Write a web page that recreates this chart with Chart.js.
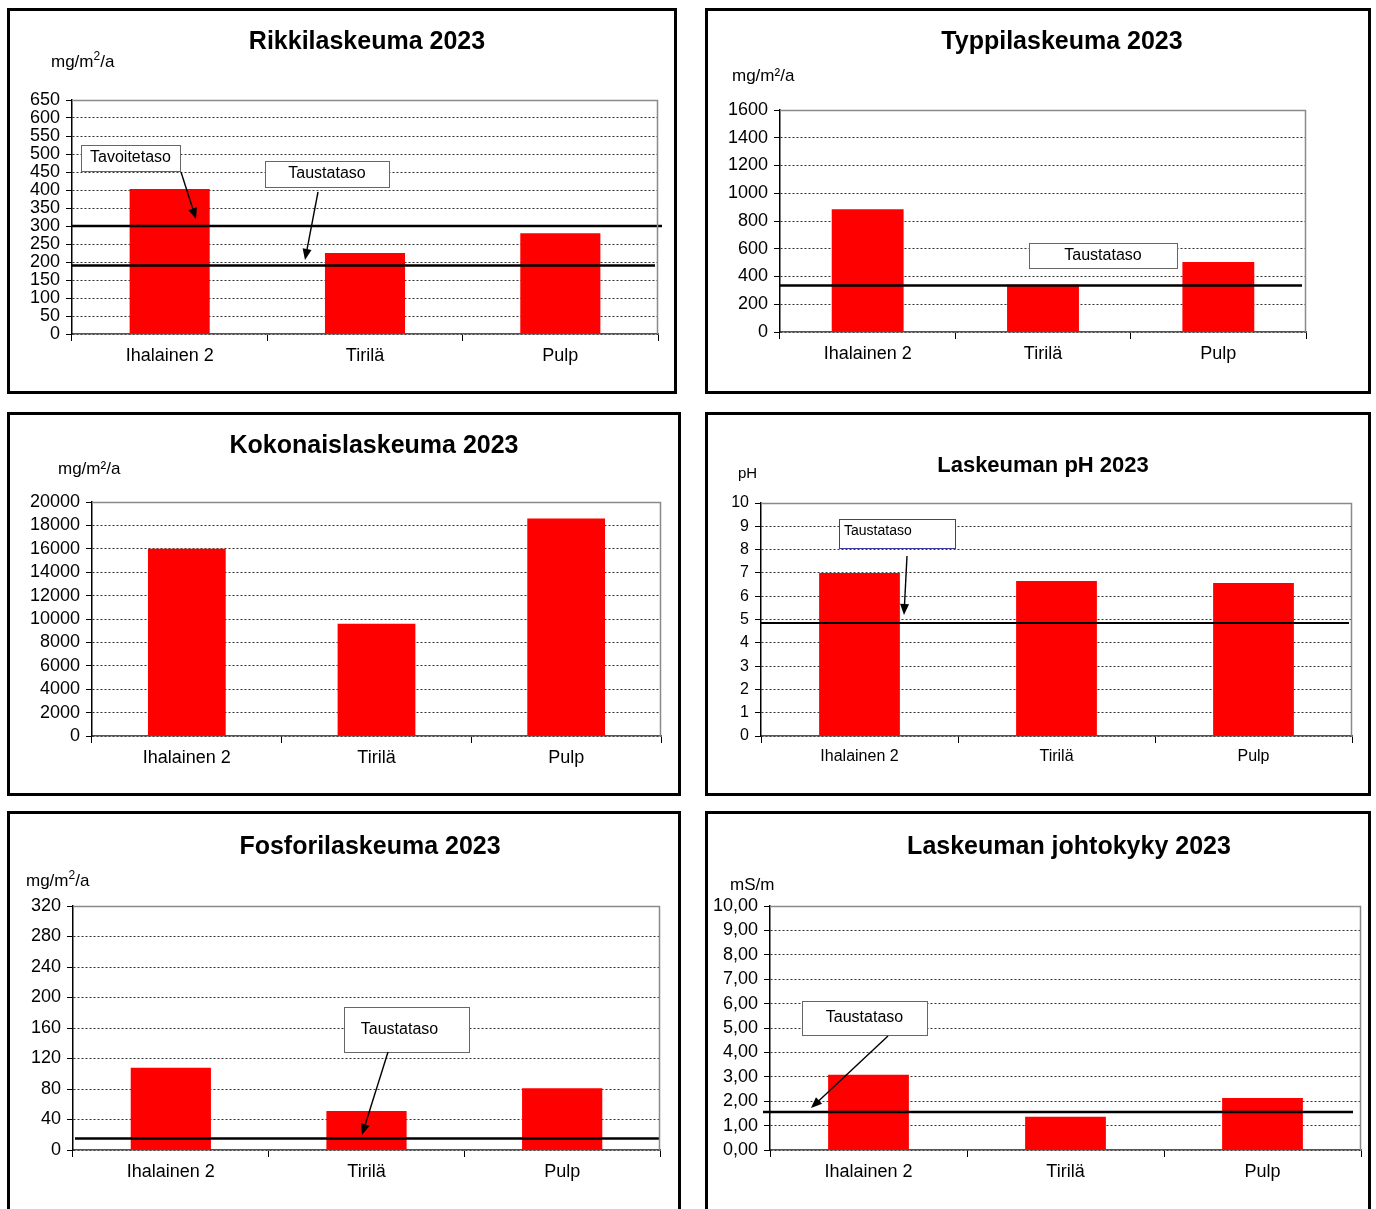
<!DOCTYPE html>
<html>
<head>
<meta charset="utf-8">
<script src="https://cdn.jsdelivr.net/npm/chart.js@4.4.0/dist/chart.umd.min.js"></script>
<style>
  body { margin:0; background:#fff; width:1376px; height:1209px; overflow:hidden; position:relative; }
  .panel { position:absolute; border:3px solid #000; box-sizing:border-box; background:#fff; }
  .panel canvas { position:absolute; left:0; top:0; }
</style>
</head>
<body>
<script>
// data
const stations = ['Ihalainen 2', 'Tirilä', 'Pulp'];
const rikki = [403, 225, 280];
const typpi = [885, 340, 505];
const kokonais = [16000, 9600, 18600];
const ph = [7.0, 6.65, 6.57];
const fosfori = [108, 51, 81];
const johtokyky = [3.08, 1.36, 2.13];

const rikkiTavoite = 300;
const rikkiTausta = 190;
const typpiTausta = 335;
const phTausta = 4.85;
const fosforiTausta = 15;
const johtokykyTausta = 1.56;

const FONT = "'Liberation Sans', Arial, sans-serif";

const panels = [
  { box:[7,8,677,394], area:[72,100,658,334], title:'Rikkilaskeuma 2023', tx:367, ty:42, tsize:25,
    unit:'mg/m^2^/a', ux:51, uy:62, values:rikki, max:650, step:50,
    lines:[{v:rikkiTavoite, x1:72, x2:662}, {v:rikkiTausta, x1:72, x2:655}],
    notes:[{text:'Tavoitetaso', box:[81,145,180,171], arrow:[181,172,196,219]},
           {text:'Taustataso', box:[265,161,389,187], arrow:[318,192,305,260]}] },
  { box:[705,8,1371,394], area:[780,110,1306,332], title:'Typpilaskeuma 2023', tx:1062, ty:42, tsize:25,
    unit:'mg/m²/a', ux:732, uy:76, values:typpi, max:1600, step:200,
    lines:[{v:typpiTausta, x1:780, x2:1302}],
    notes:[{text:'Taustataso', box:[1029,243,1177,268]}] },
  { box:[7,412,681,796], area:[92,502,661,736], title:'Kokonaislaskeuma 2023', tx:374, ty:446, tsize:25,
    unit:'mg/m²/a', ux:58, uy:469, values:kokonais, max:20000, step:2000, lines:[], notes:[] },
  { box:[705,412,1371,796], area:[761,503,1352,736], title:'Laskeuman pH 2023', tx:1043, ty:466, tsize:22,
    unit:'pH', ux:738, uy:474, usize:15, values:ph, max:10, step:1, font:16,
    lines:[{v:phTausta, x1:761, x2:1349, w:2}],
    notes:[{text:'Taustataso', box:[839,519,955,548], arrow:[907,556,904,615], color:'#3b3b9e', align:'left', size:14}] },
  { box:[7,811,681,1225], area:[73,906,660,1150], title:'Fosforilaskeuma 2023', tx:370, ty:847, tsize:25,
    unit:'mg/m^2^/a', ux:26, uy:881, values:fosfori, max:320, step:40,
    lines:[{v:fosforiTausta, x1:75, x2:660}],
    notes:[{text:'Taustataso', box:[344,1007,469,1052], arrow:[388,1052,362,1135], dx:-7}] },
  { box:[705,811,1371,1225], area:[770,906,1361,1150], title:'Laskeuman johtokyky 2023', tx:1069, ty:847, tsize:25,
    unit:'mS/m', ux:730, uy:885, values:johtokyky, max:10, step:1, comma:true,
    lines:[{v:johtokykyTausta, x1:763, x2:1353}],
    notes:[{text:'Taustataso', box:[802,1001,927,1035], arrow:[888,1036,811,1108]}] }
];

const drawArrow = (ctx, x1, y1, x2, y2) => {
  const a = Math.atan2(y2 - y1, x2 - x1);
  ctx.beginPath();
  ctx.moveTo(x1, y1);
  ctx.lineTo(x2 - 6 * Math.cos(a), y2 - 6 * Math.sin(a));
  ctx.lineWidth = 1.4;
  ctx.strokeStyle = '#000';
  ctx.stroke();
  ctx.beginPath();
  ctx.moveTo(x2, y2);
  ctx.lineTo(x2 - 11 * Math.cos(a) + 4.5 * Math.sin(a), y2 - 11 * Math.sin(a) - 4.5 * Math.cos(a));
  ctx.lineTo(x2 - 11 * Math.cos(a) - 4.5 * Math.sin(a), y2 - 11 * Math.sin(a) + 4.5 * Math.cos(a));
  ctx.closePath();
  ctx.fillStyle = '#000';
  ctx.fill();
};

const decor = {
  id: 'decor',
  afterDatasetsDraw(chart) {
    const p = chart.options.plugins.decor.panel;
    const ox = p.box[0] + 3, oy = p.box[1] + 3;
    const ctx = chart.ctx;
    const y = chart.scales.y;
    ctx.save();
    // reference levels
    p.lines.forEach(l => {
      const py = y.getPixelForValue(l.v);
      ctx.beginPath();
      ctx.moveTo(l.x1 - ox, py);
      ctx.lineTo(l.x2 - ox, py);
      ctx.lineWidth = l.w || 2.5;
      ctx.strokeStyle = '#000';
      ctx.stroke();
    });
    // callout boxes
    p.notes.forEach(n => {
      const [l, t, r, b] = n.box;
      ctx.fillStyle = '#fff';
      ctx.fillRect(l - ox, t - oy, r - l, b - t);
      ctx.lineWidth = 1;
      ctx.strokeStyle = n.color || '#666';
      ctx.strokeRect(l - ox + 0.5, t - oy + 0.5, r - l, b - t);
      ctx.fillStyle = '#000';
      ctx.font = (n.size || 16) + 'px ' + FONT;
      ctx.textBaseline = 'middle';
      if (n.align === 'left') {
        ctx.textAlign = 'left';
        ctx.fillText(n.text, l - ox + 5, t - oy + 12);
      } else {
        ctx.textAlign = 'center';
        ctx.fillText(n.text, (l + r) / 2 - ox + (n.dx || 0), (t + b) / 2 - oy);
      }
      if (n.arrow) drawArrow(ctx, n.arrow[0] - ox, n.arrow[1] - oy, n.arrow[2] - ox, n.arrow[3] - oy);
    });
    ctx.restore();
  },
  afterDraw(chart) {
    const p = chart.options.plugins.decor.panel;
    const ox = p.box[0] + 3, oy = p.box[1] + 3;
    const ctx = chart.ctx;
    const a = chart.chartArea;
    ctx.save();
    // plot frame top/right
    ctx.beginPath();
    ctx.moveTo(a.left, a.top + 0.5);
    ctx.lineTo(a.right - 0.5, a.top + 0.5);
    ctx.lineTo(a.right - 0.5, a.bottom);
    ctx.lineWidth = 1.5;
    ctx.strokeStyle = '#8a8a8a';
    ctx.stroke();
    // title
    ctx.fillStyle = '#000';
    ctx.textBaseline = 'middle';
    ctx.textAlign = 'center';
    ctx.font = 'bold ' + (p.tsize || 25) + 'px ' + FONT;
    ctx.fillText(p.title, p.tx - ox, p.ty - oy);
    // unit, with ^2^ as superscript
    ctx.textAlign = 'left';
    const us = p.usize || 17;
    let x = p.ux - ox;
    p.unit.split('^').forEach((part, i) => {
      const sup = i % 2 === 1;
      ctx.font = (sup ? us - 5 : us) + 'px ' + FONT;
      ctx.fillText(part, x, p.uy - oy - (sup ? 5 : 0));
      x += ctx.measureText(part).width;
    });
    ctx.restore();
  }
};

const createChart = p => {
  const div = document.createElement('div');
  div.className = 'panel';
  const [l, t, r, b] = p.box;
  Object.assign(div.style, { left: l + 'px', top: t + 'px', width: (r - l) + 'px', height: (b - t) + 'px' });
  const cw = r - l - 6, ch = b - t - 6;
  const cx = l + 3, cy = t + 3;
  const canvas = document.createElement('canvas');
  canvas.width = cw; canvas.height = ch;
  canvas.style.width = cw + 'px'; canvas.style.height = ch + 'px';
  div.appendChild(canvas);
  document.body.appendChild(div);

  const [L, T, R, B] = p.area;
  const fs = p.font || 18;
  const xH = 40;

  new Chart(canvas.getContext('2d'), {
    type: 'bar',
    data: {
      labels: stations,
      datasets: [{ data: p.values, backgroundColor: '#ff0000', borderWidth: 0,
                   categoryPercentage: 1, barPercentage: 0.41 }]
    },
    options: {
      responsive: false,
      animation: false,
      layout: { padding: { left: 0, top: T - cy, right: cx + cw - R, bottom: cy + ch - B - xH } },
      plugins: { legend: { display: false }, tooltip: { enabled: false }, title: { display: false },
                 decor: { panel: p } },
      scales: {
        x: {
          offset: true,
          afterFit: s => { s.height = xH; },
          grid: { drawOnChartArea: false, drawTicks: true, tickLength: 7, tickColor: '#000', offset: true },
          border: { color: '#555', width: 1.5 },
          ticks: { color: '#000', font: { family: FONT, size: fs }, padding: 4, maxRotation: 0 }
        },
        y: {
          min: 0, max: p.max,
          afterFit: s => { s.width = L - cx; },
          grid: { color: '#333', lineWidth: 1, tickLength: 6, tickColor: '#000', drawTicks: true },
          border: { color: '#000', width: 1.5, dash: [2, 2] },
          ticks: { stepSize: p.step, autoSkip: false, color: '#000', padding: 6,
                   font: { family: FONT, size: fs, lineHeight: 1 },
                   callback: v => p.comma ? v.toFixed(2).replace('.', ',') : v }
        }
      }
    },
    plugins: [decor]
  });
};

panels.forEach(createChart);
</script>
</body>
</html>
